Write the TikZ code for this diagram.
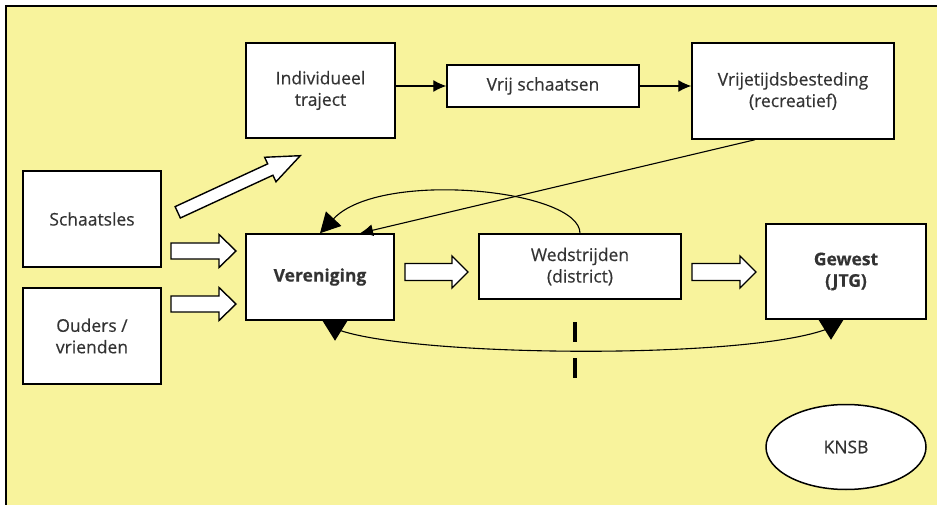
\documentclass[tikz,border=0pt]{standalone}
\usepackage{fontspec}
\setmainfont{Open Sans}[FakeBold=0.4]
\usetikzlibrary{arrows.meta,shapes.geometric,calc}
\definecolor{pad}{HTML}{F8F39C}
\definecolor{ink}{HTML}{333333}
% open block arrow: centre x, centre y, angle, length, shaft width, head width, head length
\newcommand{\openarrow}[7]{%
  \draw[arrowedge, shift={(#1,#2)}, rotate=#3]
    ({-#4/2},{-#5/2}) -- ({#4/2-#7},{-#5/2}) -- ({#4/2-#7},{-#6/2}) -- ({#4/2},0)
    -- ({#4/2-#7},{#6/2}) -- ({#4/2-#7},{#5/2}) -- ({-#4/2},{#5/2}) -- cycle;}
\begin{document}
\begin{tikzpicture}[x=1pt,y=-1pt,
  box/.style={draw, line width=1.5pt, fill=white, text=ink, align=center,
    inner sep=0pt, font=\fontsize{17.5}{21.5}\selectfont},
  bold/.style={font=\fontsize{17.5}{21.5}\selectfont\bfseries},
  arrowedge/.style={draw, line width=1.4pt, fill=white, line join=miter},
  link/.style={line width=1.1pt, -{Latex[length=13pt,width=12pt]}},
  bighead/.style={fill=black}]

% background panel with its top and left rule
\useasboundingbox (0,0) rectangle (937,505);
\fill[pad] (6,6) rectangle (937,505);
\draw[line width=2pt] (6,505) -- (6,6) -- (937,6);

% boxes
\node[box, minimum width=149pt, minimum height=95pt] (ind) at (320.5,90.5) {Individueel\\traject};
\node[box, minimum width=192pt, minimum height=42pt] (vrij) at (543,86) {Vrij schaatsen};
\node[box, minimum width=202pt, minimum height=96pt] (rec) at (793,91) {Vrijetijdsbesteding\\(recreatief)};
\node[box, minimum width=138pt, minimum height=96pt] (les) at (92,219) {Schaatsles};
\node[box, minimum width=138pt, minimum height=96pt] (oud) at (92,336) {Ouders /\\vrienden};
\node[box, bold, minimum width=148pt, minimum height=86pt] (ver) at (320,277) {Vereniging};
\node[box, minimum width=202pt, minimum height=65pt] (wed) at (580,266.5) {Wedstrijden\\(district)};
\node[box, bold, minimum width=160pt, minimum height=95pt] (gew) at (846,271.5) {Gewest\\(JTG)};
\node[box, ellipse, minimum width=160pt, minimum height=85pt] (knsb) at (846,447) {KNSB};

% open block arrows
\openarrow{239}{184}{24.8}{135}{12.5}{27}{33}
\openarrow{203.5}{251}{0}{65}{16}{33}{17}
\openarrow{203.5}{304}{0}{65}{16}{33}{17}
\openarrow{436.5}{272}{0}{63}{17}{32}{16}
\openarrow{724}{272}{0}{64}{17}{32}{16}

% thin connectors
\draw[link] (ind.east |- vrij.west) -- (vrij.west);
\draw[link] (vrij.east) -- (vrij.east -| rec.west);
\draw[link] ($(rec.south)+(-38,0)$) -- ($(ver.north)+(40,0)$);
\draw[line width=1.1pt, -{Triangle[length=20pt,width=21pt]}]
  (wed.north) .. controls +(0,-44) and +(60,-64) .. (ver.north);

% lower arc with its two heads
\coordinate (vl) at ($(ver.south)+(15,0)$);
\coordinate (gl) at ($(gew.south)+(-15,0)$);
\fill[bighead] ($(vl)+(-12.5,0)$) -- ($(vl)+(12.5,0)$) -- ($(vl)+(0,20)$) -- cycle;
\fill[bighead] ($(gl)+(-12.5,0)$) -- ($(gl)+(12.5,0)$) -- ($(gl)+(0,20)$) -- cycle;
\draw[line width=1.1pt] ($(vl)+(6,10)$) .. controls +(79,26) and +(-85,30) .. ($(gl)+(-6,10)$);

% dashed divider
\draw[line width=4pt, dash pattern=on 20pt off 16pt] (575,322) -- (575,379);
\end{tikzpicture}
\end{document}
